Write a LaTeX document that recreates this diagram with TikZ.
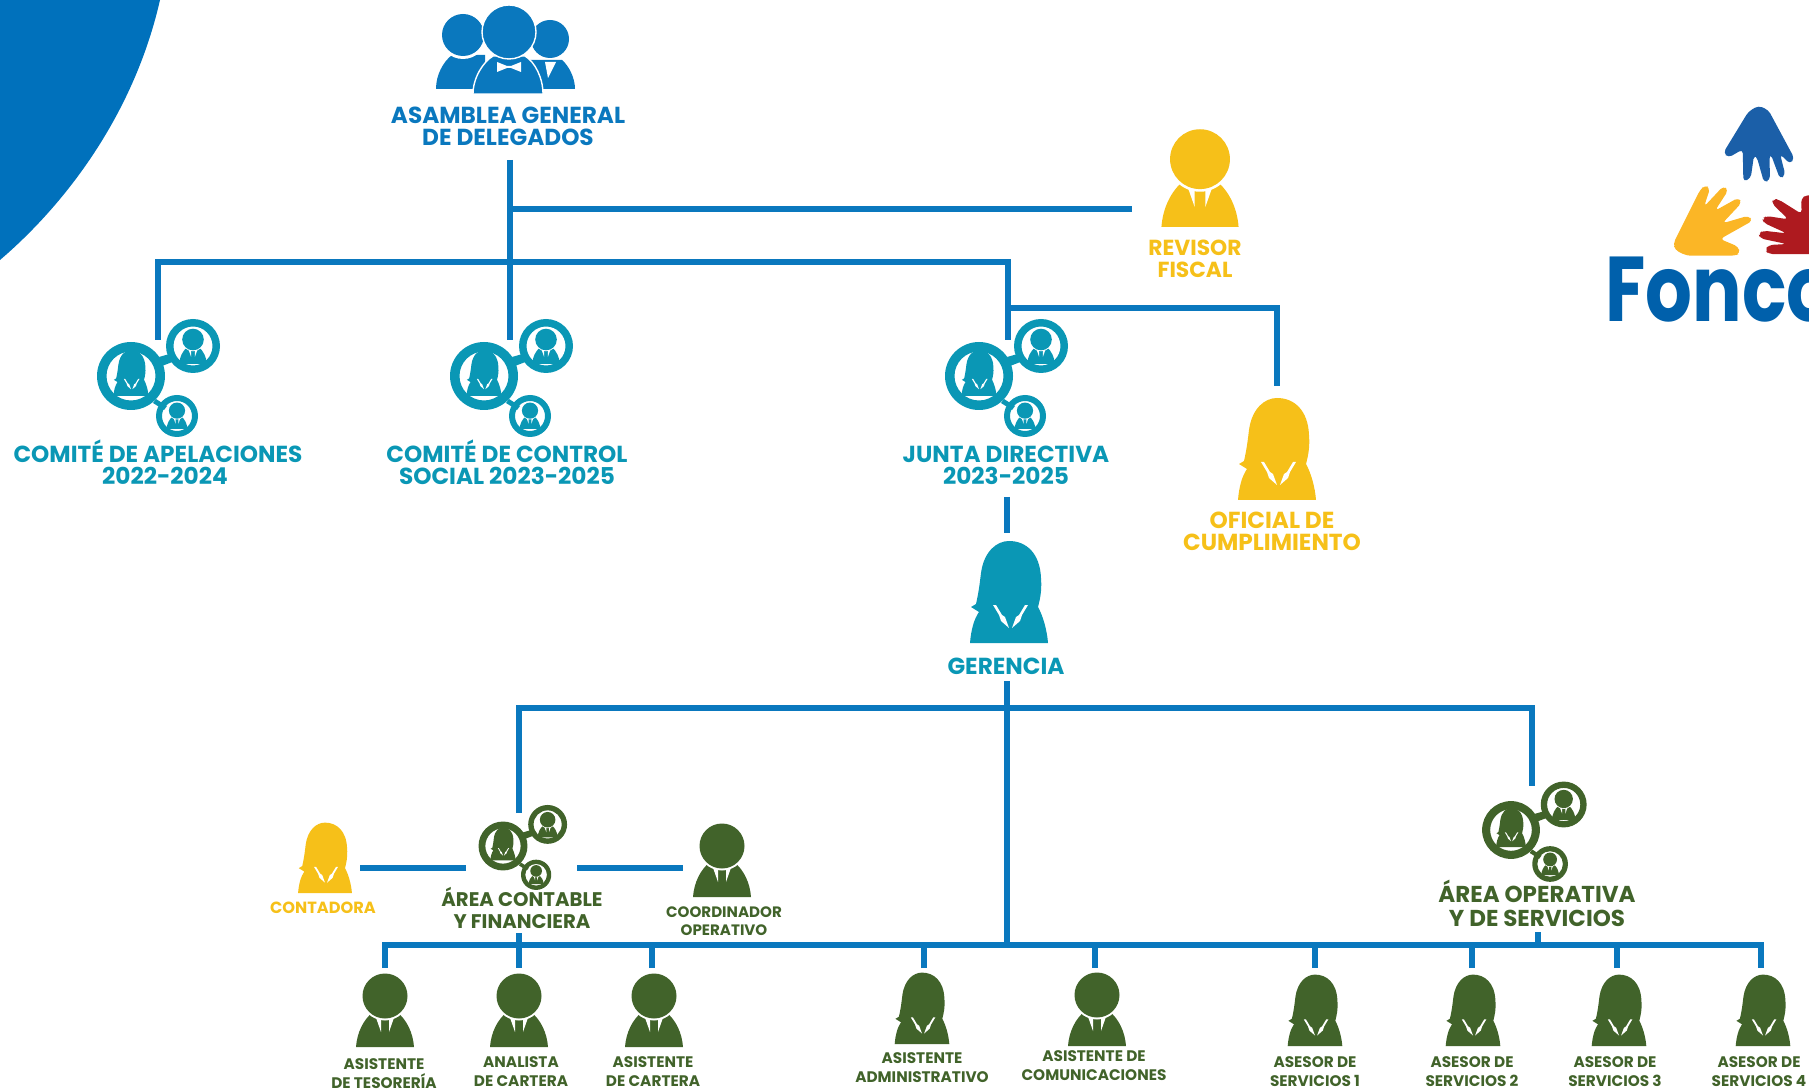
\documentclass[tikz,border=0pt]{standalone}
\usepackage{fontspec}
\setmainfont{Poppins}

\definecolor{linkblue}{HTML}{0A78BE}
\definecolor{cornerblue}{HTML}{0071BC}
\definecolor{iconteal}{HTML}{0A97B5}
\definecolor{icongold}{HTML}{F6C019}
\definecolor{icongreen}{HTML}{41632A}

\tikzset{
    pics/man/.style={code={
        \fill[#1] (-29,0) .. controls (-28,-14) and (-22,-27) .. (-12,-35) -- (12,-35) .. controls (22,-27) and (28,-14) .. (29,0) -- cycle;
        \fill[white] (-11,-35) -- (-6,-35) -- (-4,-28) -- (-4,-15) -- cycle;
        \fill[white] (11,-35) -- (6,-35) -- (4,-28) -- (4,-15) -- cycle;
        \fill[white] (0,-51) circle (24.5);
        \fill[#1] (0,-51) circle (22.5);
    }},
    pics/woman/.style={code={
        \fill[#1] (-39,0) .. controls (-38,-13) and (-35,-24) .. (-30,-31) -- (-38,-36) -- (-33,-39)
            .. controls (-30,-52) and (-29,-62) .. (-28,-70) .. controls (-25,-92) and (-12,-102) .. (0,-102)
            .. controls (17,-102) and (31,-90) .. (32,-65) .. controls (33,-52) and (31,-44) .. (29,-36)
            .. controls (34,-27) and (38,-13) .. (39,0) -- cycle;
        \fill[white] (-16,-38) -- (-13,-38) -- (-7,-28) -- (-4,-26) -- (0,-15) -- (-8,-22) -- (-10,-28) -- cycle;
        \fill[white] (19,-38) -- (16,-38) -- (10,-28) -- (7,-26) -- (3,-15) -- (11,-22) -- (13,-28) -- cycle;
    }},
    pics/trio/.style={code={
        \fill[#1] (28,-19) -- (42,-23) -- (44,-15) -- (31,-10) -- cycle;
        \fill[#1] (25,23) -- (36,30) -- (33,34) -- (22,27) -- cycle;
        \fill[#1,even odd rule] (0,0) circle (34) (0,0) circle (24.5);
        \fill[#1,even odd rule] (62,-30) circle (27) (62,-30) circle (19.5);
        \fill[#1,even odd rule] (46,40) circle (21) (46,40) circle (15);
        \pic[transform shape,scale=.45] at (0,20) {woman=#1};
        \pic[transform shape,scale=.48] at (62,-12) {man=#1};
        \pic[transform shape,scale=.36] at (46,53) {man=#1};
    }},
    linkline/.style={draw=linkblue,line width=2.8pt},
    bigtext/.style={font=\bfseries\fontsize{11.6}{11}\selectfont,align=center,inner sep=0pt,anchor=base},
    midtext/.style={font=\bfseries\fontsize{9.85}{11}\selectfont,align=center,inner sep=0pt,anchor=base},
    smalltext/.style={font=\bfseries\fontsize{7.65}{9.3}\selectfont,align=center,inner sep=0pt,anchor=base,text=icongreen}
}

\begin{document}
\begin{tikzpicture}[x=0.5pt,y=-0.5pt]
    \useasboundingbox (0,0) rectangle (1809,1090);

    \fill[cornerblue] (0,0) -- (160,0) .. controls (135,110) and (70,200) .. (0,260) -- cycle;

    \coordinate (asambleaOut) at (510,160);
    \coordinate (revisorIn) at (1132,209);
    \coordinate (topBar) at (510,262);
    \coordinate (apelIn) at (158,340);
    \coordinate (controlIn) at (510,340);
    \coordinate (juntaIn) at (1008,340);
    \coordinate (oficialBar) at (1008,308);
    \coordinate (oficialIn) at (1277,386);
    \coordinate (juntaOut) at (1007,497);
    \coordinate (gerenciaIn) at (1007,533);
    \coordinate (gerenciaOut) at (1007,681);
    \coordinate (areaBar) at (1007,708);
    \coordinate (contableIn) at (519,813);
    \coordinate (operativaIn) at (1532,786);
    \coordinate (staffBar) at (1007,945);
    \coordinate (contadoraIn) at (360,868);
    \coordinate (contableLeft) at (466,868);
    \coordinate (contableRight) at (577,868);
    \coordinate (coordinadorIn) at (683,868);
    \coordinate (contableOut) at (519,933);
    \coordinate (operativaOut) at (1538,932);
    \coordinate (tesoreriaIn) at (385,968);
    \coordinate (analistaIn) at (519,968);
    \coordinate (carteraIn) at (652,968);
    \coordinate (adminIn) at (924,968);
    \coordinate (comunicaIn) at (1095,968);
    \coordinate (asesorAIn) at (1315,968);
    \coordinate (asesorBIn) at (1472,968);
    \coordinate (asesorCIn) at (1617,968);
    \coordinate (asesorDIn) at (1761,968);

    \draw[linkline] (asambleaOut) -- (controlIn);
    \draw[linkline] (asambleaOut |- revisorIn) -- (revisorIn);
    \draw[linkline] (apelIn) -- (apelIn |- topBar) -- (juntaIn |- topBar) -- (juntaIn);
    \draw[linkline] (oficialBar) -- (oficialBar -| oficialIn) -- (oficialIn);
    \draw[linkline] (juntaOut) -- (gerenciaIn);
    \draw[linkline] (gerenciaOut) -- (staffBar);
    \draw[linkline] (contableIn) -- (contableIn |- areaBar) -- (operativaIn |- areaBar) -- (operativaIn);
    \draw[linkline] (contadoraIn) -- (contableLeft);
    \draw[linkline] (contableRight) -- (coordinadorIn);
    \draw[linkline] (tesoreriaIn) -- (tesoreriaIn |- staffBar) -- (asesorDIn |- staffBar) -- (asesorDIn);
    \draw[linkline] (contableOut) -- (analistaIn);
    \draw[linkline] (operativaOut) -- (operativaOut |- staffBar);
    \draw[linkline] (carteraIn) -- (carteraIn |- staffBar);
    \draw[linkline] (adminIn) -- (adminIn |- staffBar);
    \draw[linkline] (comunicaIn) -- (comunicaIn |- staffBar);
    \draw[linkline] (asesorAIn) -- (asesorAIn |- staffBar);
    \draw[linkline] (asesorBIn) -- (asesorBIn |- staffBar);
    \draw[linkline] (asesorCIn) -- (asesorCIn |- staffBar);

    \fill[linkblue] (436,89) .. controls (436,75) and (443,62) .. (452,55) -- (485,55) -- (485,89) -- cycle;
    \fill[white] (463,35) circle (24);
    \fill[linkblue] (463,35) circle (21);
    \fill[linkblue] (530,89) -- (530,60) -- (562,60) .. controls (569,66) and (575,78) .. (575,89) -- cycle;
    \fill[white] (545,62) -- (556,62) -- (548,78) -- cycle;
    \fill[linkblue] (550,39) circle (19);
    \filldraw[linkblue,draw=white,line width=0.7pt] (473,94) .. controls (473,78) and (483,62) .. (493,56) -- (525,56) .. controls (535,62) and (543,78) .. (543,94) -- cycle;
    \filldraw[linkblue,draw=white,line width=0.7pt] (509,32) circle (27);
    \fill[white] (497,62) -- (507,66) -- (511,66) -- (521,62) -- (521,72) -- (511,68) -- (507,68) -- (497,72) -- cycle;

    \node[bigtext,text=linkblue] (asamblea) at (508,146) {ASAMBLEA GENERAL\\DE DELEGADOS};

    \pic[scale=1.33] at (1200,227) {man=icongold};
    \node[font=\bfseries\fontsize{10.9}{11}\selectfont,align=center,inner sep=0pt,anchor=base,text=icongold] (revisor) at (1195,278) {REVISOR\\FISCAL};

    \pic at (131,376) {trio=iconteal};
    \pic at (484,376) {trio=iconteal};
    \pic at (979,376) {trio=iconteal};
    \node[bigtext,text=iconteal] (apelaciones) at (158,485) {COMITÉ DE APELACIONES\\\hspace*{7pt}2022-2024};
    \node[bigtext,text=iconteal] (control) at (507,485) {COMITÉ DE CONTROL\\SOCIAL 2023-2025};
    \node[bigtext,text=iconteal] (junta) at (1006,485) {JUNTA DIRECTIVA\\2023-2025};

    \pic at (1277,500) {woman=icongold};
    \node[bigtext,text=icongold] (oficial) at (1272,551) {OFICIAL DE\\CUMPLIMIENTO};

    \pic at (1009,643) {woman=iconteal};
    \node[bigtext,text=iconteal] (gerencia) at (1006,674) {GERENCIA};

    \pic[scale=.69] at (325,893) {woman=icongold};
    \node[font=\bfseries\fontsize{8.1}{9}\selectfont,inner sep=0pt,anchor=base,text=icongold] (contadora) at (323,913) {CONTADORA};

    \pic[scale=.72] at (503,846) {trio=icongreen};
    \node[midtext,text=icongreen] (contable) at (522,928) {ÁREA CONTABLE\\Y FINANCIERA};

    \pic at (722,897) {man=icongreen};
    \node[font=\bfseries\fontsize{7.55}{9}\selectfont,align=center,inner sep=0pt,anchor=base,text=icongreen] (coordinador) at (724,935) {COORDINADOR\\OPERATIVO};

    \pic[scale=.85] at (1511,830) {trio=icongreen};
    \node[font=\bfseries\fontsize{11.5}{12}\selectfont,align=center,inner sep=0pt,anchor=base,text=icongreen] (operativa) at (1537,926) {ÁREA OPERATIVA\\Y DE SERVICIOS};

    \pic at (385,1047) {man=icongreen};
    \pic at (519,1047) {man=icongreen};
    \pic at (654,1047) {man=icongreen};
    \pic[scale=.7] at (922,1044) {woman=icongreen};
    \pic at (1097,1046) {man=icongreen};
    \pic[scale=.7] at (1315,1046) {woman=icongreen};
    \pic[scale=.7] at (1473,1046) {woman=icongreen};
    \pic[scale=.7] at (1619,1046) {woman=icongreen};
    \pic[scale=.7] at (1763,1046) {woman=icongreen};

    \node[smalltext] (tesoreria) at (384,1088) {ASISTENTE\\DE TESORERÍA};
    \node[smalltext] (analista) at (521,1086) {ANALISTA\\DE CARTERA};
    \node[smalltext] (cartera) at (653,1086) {ASISTENTE\\DE CARTERA};
    \node[smalltext] (admin) at (922,1082) {ASISTENTE\\ADMINISTRATIVO};
    \node[smalltext] (comunica) at (1094,1080) {ASISTENTE DE\\COMUNICACIONES};
    \node[smalltext] (asesorA) at (1315,1086) {ASESOR DE\\SERVICIOS 1};
    \node[smalltext] (asesorB) at (1472,1086) {ASESOR DE\\SERVICIOS 2};
    \node[smalltext] (asesorC) at (1615,1086) {ASESOR DE\\SERVICIOS 3};
    \node[smalltext] (asesorD) at (1759,1086) {ASESOR DE\\SERVICIOS 4};

    \begin{scope}[shift={(1560,90)},x=0.1667pt,y=-0.1667pt]
        \fill[rounded corners=2pt,fill={rgb,255:red,27;green,95;blue,168}] (595,47) -- (625,60) -- (703,205) -- (690,222) -- (660,192) -- (676,255) -- (660,267) -- (632,192) -- (628,195) -- (630,270) -- (612,278) -- (590,200) -- (582,195) -- (572,265) -- (550,275) -- (548,178) -- (505,203) -- (490,188) -- (565,65) -- cycle;
        \fill[rounded corners=2pt,fill={rgb,255:red,251;green,182;blue,38}] (435,285) -- (450,295) -- (432,350) -- (490,288) -- (505,300) -- (465,362) -- (535,323) -- (545,338) -- (487,400) -- (565,377) -- (578,392) -- (480,447) -- (535,470) -- (540,490) -- (525,497) -- (380,497) -- (345,480) -- (340,460) -- (420,300) -- cycle;
        \fill[rounded corners=2pt,fill={rgb,255:red,174;green,26;blue,31}] (640,327) -- (655,328) -- (725,372) -- (723,325) -- (740,315) -- (760,315) -- (760,492) -- (625,492) -- (615,480) -- (625,465) -- (680,462) -- (600,445) -- (595,430) -- (610,422) -- (680,430) -- (610,398) -- (607,385) -- (620,378) -- (685,388) -- (635,340) -- cycle;
    \end{scope}
    \node[font=\bfseries\fontsize{46}{46}\selectfont,inner sep=0pt,anchor=base west,text={rgb,255:red,0;green,96;blue,171}] (logo) at (1605,322) {\scalebox{.8}[1]{Fonco}};
\end{tikzpicture}
\end{document}
